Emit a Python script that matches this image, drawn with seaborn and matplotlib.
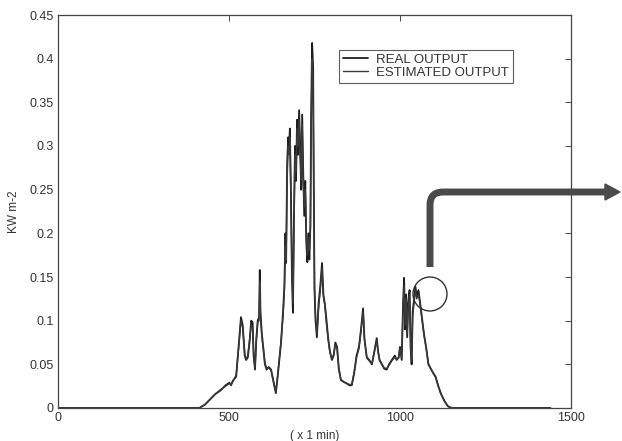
import numpy as np
import pandas as pd
import matplotlib
matplotlib.use("Agg")
import matplotlib.pyplot as plt
from matplotlib.path import Path
from matplotlib.patches import PathPatch, Polygon, Ellipse
import seaborn as sns

# ── Data ──────────────────────────────────────────────────────────────────────
minutes = [
    0, 413, 430, 445, 460, 475, 490, 501, 506, 511,
    521, 528, 535, 540, 546, 550, 555, 560, 565, 569,
    572, 576, 580, 584, 588, 590, 592, 596, 600, 605,
    610, 616, 623, 630, 637, 642, 647, 652, 658, 662,
    665, 667, 670, 673, 676, 678, 681, 684, 687, 690,
    693, 696, 699, 702, 705, 708, 711, 714, 717, 720,
    723, 726, 729, 732, 735, 738, 740, 743, 746, 748,
    750, 753, 757, 762, 767, 772, 776, 780, 784, 790,
    795, 801, 806, 811, 816, 821, 827, 835, 845, 852,
    859, 866, 873, 880, 886, 892, 896, 899, 903, 910,
    918, 925, 932, 936, 940, 947, 954, 961, 968, 976,
    985, 990, 996, 1000, 1005, 1009, 1012, 1015, 1018, 1021,
    1024, 1028, 1031, 1034, 1037, 1041, 1045, 1049, 1054, 1059,
    1064, 1070, 1077, 1083, 1090, 1097, 1104, 1112, 1120, 1130,
    1140, 1151, 1440,
]

real_output = [
    0, 0, 0.004, 0.010, 0.016, 0.020, 0.026, 0.029, 0.026, 0.031,
    0.036, 0.070, 0.104, 0.095, 0.060, 0.055, 0.058, 0.075, 0.100, 0.098,
    0.060, 0.044, 0.080, 0.100, 0.104, 0.158, 0.110, 0.085, 0.070, 0.050,
    0.044, 0.047, 0.044, 0.030, 0.017, 0.035, 0.055, 0.074, 0.110, 0.140,
    0.200, 0.166, 0.280, 0.310, 0.300, 0.320, 0.250, 0.150, 0.109, 0.220,
    0.300, 0.260, 0.330, 0.290, 0.341, 0.300, 0.250, 0.336, 0.270, 0.220,
    0.260, 0.190, 0.167, 0.200, 0.170, 0.210, 0.330, 0.418, 0.390, 0.250,
    0.135, 0.100, 0.081, 0.120, 0.140, 0.166, 0.130, 0.120, 0.105, 0.080,
    0.065, 0.055, 0.060, 0.075, 0.070, 0.045, 0.032, 0.030, 0.028, 0.026,
    0.026, 0.040, 0.060, 0.070, 0.090, 0.114, 0.080, 0.070, 0.058, 0.055,
    0.050, 0.065, 0.080, 0.065, 0.055, 0.050, 0.045, 0.044, 0.050, 0.055,
    0.060, 0.055, 0.058, 0.070, 0.055, 0.120, 0.149, 0.090, 0.130, 0.081,
    0.120, 0.135, 0.070, 0.050, 0.110, 0.125, 0.139, 0.128, 0.135, 0.120,
    0.104, 0.085, 0.068, 0.050, 0.045, 0.040, 0.036, 0.025, 0.016, 0.008,
    0.002, 0, 0,
]

estimated_output = [
    0, 0, 0.004, 0.010, 0.016, 0.021, 0.025, 0.028, 0.027, 0.030,
    0.038, 0.068, 0.100, 0.092, 0.062, 0.056, 0.060, 0.078, 0.095, 0.092,
    0.062, 0.046, 0.078, 0.098, 0.100, 0.145, 0.105, 0.082, 0.068, 0.052,
    0.045, 0.046, 0.043, 0.031, 0.019, 0.036, 0.056, 0.076, 0.105, 0.135,
    0.185, 0.170, 0.260, 0.300, 0.290, 0.310, 0.240, 0.160, 0.120, 0.210,
    0.290, 0.270, 0.320, 0.300, 0.330, 0.290, 0.260, 0.325, 0.260, 0.230,
    0.250, 0.200, 0.175, 0.195, 0.180, 0.205, 0.310, 0.400, 0.370, 0.240,
    0.140, 0.105, 0.085, 0.115, 0.135, 0.160, 0.128, 0.118, 0.100, 0.078,
    0.064, 0.056, 0.061, 0.073, 0.068, 0.046, 0.033, 0.030, 0.028, 0.027,
    0.027, 0.041, 0.058, 0.068, 0.088, 0.110, 0.078, 0.069, 0.057, 0.054,
    0.051, 0.064, 0.077, 0.064, 0.056, 0.050, 0.046, 0.045, 0.049, 0.054,
    0.058, 0.056, 0.057, 0.068, 0.058, 0.115, 0.140, 0.095, 0.125, 0.085,
    0.115, 0.130, 0.075, 0.055, 0.105, 0.120, 0.135, 0.125, 0.130, 0.118,
    0.102, 0.084, 0.067, 0.051, 0.045, 0.040, 0.035, 0.025, 0.016, 0.008,
    0.002, 0, 0,
]

x_ticks = [0, 500, 1000, 1500]
y_ticks = [0, 0.05, 0.1, 0.15, 0.2, 0.25, 0.3, 0.35, 0.4, 0.45]
y_tick_labels = ["0", "0.05", "0.1", "0.15", "0.2", "0.25", "0.3", "0.35", "0.4", "0.45"]

df = pd.DataFrame({"minute": minutes, "real": real_output, "estimated": estimated_output})

# ── Plot ──────────────────────────────────────────────────────────────────────
sns.set_style("white")
plt.rcParams["font.family"] = ["Liberation Sans", "DejaVu Sans"]

W, H = 622, 441
fig = plt.figure(figsize=(W / 100, H / 100), dpi=100)
ax = fig.add_axes([58 / W, 1 - 408 / H, (571 - 58) / W, (408 - 15) / H])

sns.lineplot(data=df, x="minute", y="real", ax=ax, color="#1e1e1e", lw=1.3, label="REAL OUTPUT")
sns.lineplot(data=df, x="minute", y="estimated", ax=ax, color="#3a3a3a", lw=1.0, label="ESTIMATED OUTPUT")

FS = 9
ax.set_xlim(0, 1500)
ax.set_ylim(0, 0.45)
ax.set_xticks(x_ticks)
ax.set_xticklabels([str(t) for t in x_ticks], fontsize=FS, color="#333333")
ax.set_yticks(y_ticks)
ax.set_yticklabels(y_tick_labels, fontsize=FS, color="#333333")
ax.tick_params(direction="in", length=4, width=0.7, top=True, right=True, colors="#444444",
               labelcolor="#333333", pad=3)
for s in ax.spines.values():
    s.set_color("#444444")
    s.set_linewidth(0.9)

ax.set_xlabel("( x 1 min)", fontsize=8.5, color="#333333", labelpad=4)
ax.set_ylabel("KW m-2", fontsize=8.5, color="#333333", labelpad=7)

leg = ax.legend(loc="upper left", bbox_to_anchor=(0.548, 0.912), fontsize=9.5, frameon=True,
                fancybox=False, handlelength=1.9, handletextpad=0.6, borderpad=0.3,
                labelspacing=0.05, borderaxespad=0)
leg.get_frame().set_edgecolor("#333333")
leg.get_frame().set_linewidth(0.8)
for t in leg.get_texts():
    t.set_color("#333333")

# ── Hand-drawn annotation: circle + bent arrow (figure pixel coords) ─────────
def fx(px):
    return px / W

def fy(py):
    return 1 - py / H

circ = Ellipse((fx(430), fy(294)), 34 / W, 34 / H, transform=fig.transFigure,
               fill=False, edgecolor="#333333", lw=1.0)
fig.patches.append(circ)

verts = [(fx(430), fy(267)), (fx(430), fy(205)), (fx(430), fy(192)), (fx(443), fy(192)),
         (fx(606), fy(192))]
codes = [Path.MOVETO, Path.LINETO, Path.CURVE3, Path.CURVE3, Path.LINETO]
arrow_path = PathPatch(Path(verts, codes), transform=fig.transFigure, fill=False,
                       edgecolor="#4a4a4a", lw=5.0, capstyle="butt", joinstyle="round")
fig.patches.append(arrow_path)
head = Polygon([(fx(605), fy(184)), (fx(620), fy(192)), (fx(605), fy(200))], closed=True,
               transform=fig.transFigure, facecolor="#4a4a4a", edgecolor="#4a4a4a")
fig.patches.append(head)

plt.savefig("out.png", dpi=100)
plt.close()
